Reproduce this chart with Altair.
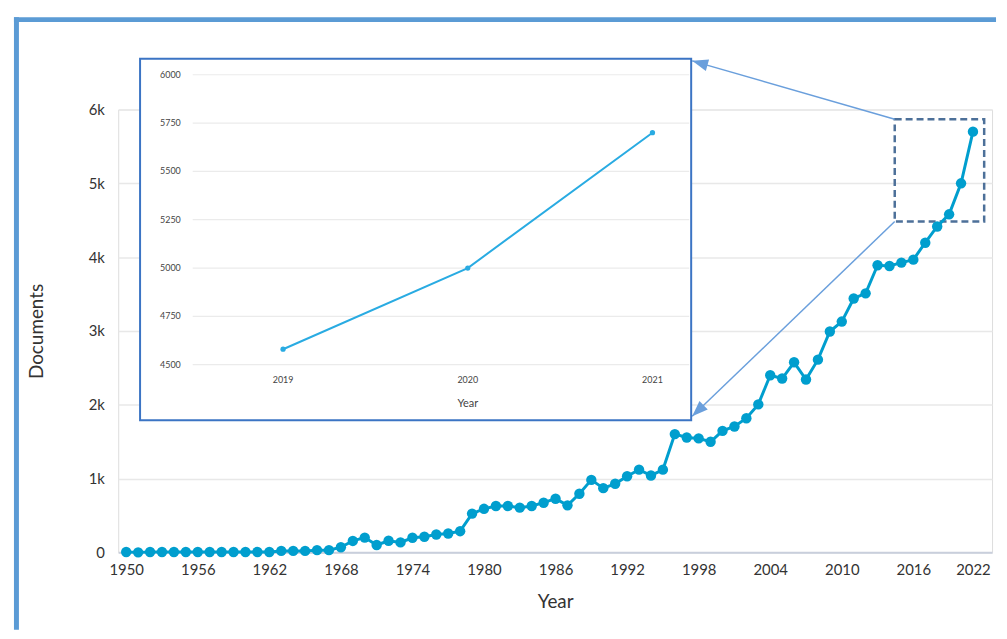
import altair as alt
import pandas as pd

# ---------------- data ----------------
years = list(range(1950, 2022))
documents = [5, 0, 5, 5, 5, 5, 5, 5, 5, 5, 5, 5, 5,
             20, 20, 20, 30, 30,
             70, 155, 200,
             100, 157, 135, 198, 211, 242, 256, 287,
             525, 590, 628, 628, 606, 628, 673, 727, 637,
             794, 982, 870, 929, 1032, 1121, 1041, 1121,
             1602, 1557, 1544, 1498, 1646, 1705, 1817, 2005,
             2400, 2355, 2575, 2342, 2611, 2992, 3127, 3440,
             3509, 3890, 3880, 3926, 3966, 4195, 4415, 4580, 5000, 5700]

x_tick_values = [1950, 1956, 1962, 1968, 1974, 1980, 1986, 1992, 1998, 2004, 2010, 2016, 2021]
y_tick_values = [0, 1000, 2000, 3000, 4000, 5000, 6000]

inset_years = [2019, 2020, 2021]
inset_documents = [4580, 5000, 5700]
inset_ticks = [4500, 4750, 5000, 5250, 5500, 5750, 6000]

zoom_x0 = [2014.44]
zoom_x1 = [2021.94]
zoom_y0 = [5868]
zoom_y1 = [4482]

# ---------------- styles ----------------
MAIN = "#009ece"
INSET_LINE = "#29abe2"
ARROW = "#6a9fdc"
FRAME = "#5b9bd5"
INSET_BORDER = "#3b74c4"
BOX = "#4d7099"
TEXT = "#333333"
FONT = "Lato"
ARROW_PATH = "M0,0L-0.6,1.6L0.6,1.6Z"

df = pd.DataFrame({"Year": years, "Documents": documents})
inset_df = pd.DataFrame({"Year": inset_years, "Documents": inset_documents})
ticks_df = pd.DataFrame({"v": inset_ticks})
box_df = pd.DataFrame({"x0": zoom_x0, "x1": zoom_x1, "y0": zoom_y0, "y1": zoom_y1})
dummy = pd.DataFrame({"d": [0]})

main_x = alt.Scale(domain=[1949.33, 2022.6], nice=False, zero=False)
main_y = alt.Scale(domain=[0, 6000], nice=False, zero=False)

x_axis = alt.Axis(values=x_tick_values, format="d",
                  labelExpr="datum.value == 2021 ? '2022' : datum.label",
                  grid=False, ticks=False, domain=True, domainColor="#c9cfdc",
                  domainWidth=2, labelFontSize=15, labelPadding=10, labelColor=TEXT,
                  labelFont=FONT, title="Year", titleFont=FONT, titleFontSize=19,
                  titleFontWeight="normal", titleColor=TEXT, titlePadding=16)
y_axis = alt.Axis(values=y_tick_values,
                  labelExpr="datum.value == 0 ? '0' : (datum.value / 1000) + 'k'",
                  grid=True, gridColor="#e8e8e8",
                  gridWidth=1.5, ticks=False, domain=False, labelFontSize=15,
                  labelPadding=14, labelColor=TEXT, labelFont=FONT,
                  title="Documents", titleFont=FONT, titleFontSize=19,
                  titleFontWeight="normal", titleColor=TEXT, titleAngle=-90,
                  titleX=-82, titleY=223, titleAlign="center", titleBaseline="middle")

# frame lines (decorative)
frame_left = alt.Chart(dummy).mark_rule(color=FRAME, strokeWidth=5).encode(
    x=alt.value(-102.5), y=alt.value(-93), y2=alt.value(524))
frame_top = alt.Chart(dummy).mark_rule(color=FRAME, strokeWidth=5).encode(
    y=alt.value(-90.5), x=alt.value(-105), x2=alt.value(884))

main_line = alt.Chart(df).mark_line(color=MAIN, strokeWidth=3).encode(
    x=alt.X("Year:Q", scale=main_x, axis=x_axis),
    y=alt.Y("Documents:Q", scale=main_y, axis=y_axis))
main_points = alt.Chart(df).mark_circle(color=MAIN, size=110, opacity=1).encode(
    x=alt.X("Year:Q", scale=main_x),
    y=alt.Y("Documents:Q", scale=main_y))

zoom_box = alt.Chart(box_df).mark_rect(fillOpacity=0, stroke=BOX, strokeWidth=2.5,
                                       strokeDash=[7, 4]).encode(
    x=alt.X("x0:Q", scale=main_x), x2="x1:Q",
    y=alt.Y("y0:Q", scale=main_y), y2="y1:Q")

arrow_top = alt.Chart(box_df).mark_rule(color=ARROW, strokeWidth=1.5).encode(
    x=alt.X("x0:Q", scale=main_x), y=alt.Y("y0:Q", scale=main_y),
    x2=alt.value(578), y2=alt.value(-49))
arrow_bot = alt.Chart(box_df).mark_rule(color=ARROW, strokeWidth=1.5).encode(
    x=alt.X("x0:Q", scale=main_x), y=alt.Y("y1:Q", scale=main_y),
    x2=alt.value(578), y2=alt.value(309))
head_top = alt.Chart(dummy).mark_point(shape=ARROW_PATH, filled=True, size=400,
                                       color=ARROW, opacity=1, angle=285.8).encode(
    x=alt.value(578), y=alt.value(-49))
head_bot = alt.Chart(dummy).mark_point(shape=ARROW_PATH, filled=True, size=400,
                                       color=ARROW, opacity=1, angle=226.1).encode(
    x=alt.value(578), y=alt.value(309))

main_group = alt.layer(frame_left, frame_top, zoom_box, arrow_top, arrow_bot,
                       head_top, head_bot, main_line, main_points)

# ---------------- inset ----------------
inset_x = alt.Scale(domain=[2019, 2021], range=[166, 538], nice=False, zero=False)
inset_y = alt.Scale(domain=[4500, 6000], range=[257, -35], nice=False, zero=False)

inset_box = alt.Chart(dummy).mark_rect(fill="white", stroke=INSET_BORDER,
                                       strokeWidth=2).encode(
    x=alt.value(22), x2=alt.value(577), y=alt.value(-51), y2=alt.value(313))
inset_grid = alt.Chart(ticks_df).mark_rule(color="#ebebeb", strokeWidth=1.2).encode(
    y=alt.Y("v:Q", scale=inset_y, axis=None), x=alt.value(75), x2=alt.value(575))
inset_ylab = alt.Chart(ticks_df).mark_text(align="right", baseline="middle",
                                           fontSize=9, color="#444444", font=FONT).encode(
    y=alt.Y("v:Q", scale=inset_y, axis=None), x=alt.value(63),
    text=alt.Text("v:Q", format="d"))
inset_xlab = alt.Chart(inset_df).mark_text(baseline="middle", fontSize=9,
                                           color="#444444", font=FONT).encode(
    x=alt.X("Year:Q", scale=inset_x, axis=None), y=alt.value(272),
    text=alt.Text("Year:Q", format="d"))
inset_title = alt.Chart(dummy).mark_text(baseline="middle", fontSize=11, color="#444444",
                                         font=FONT, text="Year").encode(
    x=alt.value(352), y=alt.value(297))
inset_line = alt.Chart(inset_df).mark_line(color=INSET_LINE, strokeWidth=2).encode(
    x=alt.X("Year:Q", scale=inset_x, axis=None),
    y=alt.Y("Documents:Q", scale=inset_y, axis=None))
inset_points = alt.Chart(inset_df).mark_circle(color=INSET_LINE, size=28, opacity=1).encode(
    x=alt.X("Year:Q", scale=inset_x, axis=None),
    y=alt.Y("Documents:Q", scale=inset_y, axis=None))

inset_group = alt.layer(inset_box, inset_grid, inset_ylab, inset_xlab, inset_title,
                        inset_line, inset_points)

chart = alt.layer(main_group, inset_group).resolve_scale(
    x="independent", y="independent"
).properties(
    width=880, height=446,
    padding={"left": 3, "top": 4, "right": 0, "bottom": 0},
    background="white"
).configure_view(stroke="transparent").configure(font=FONT)

chart.save("out.html", embed_options={"renderer": "svg", "actions": False})
